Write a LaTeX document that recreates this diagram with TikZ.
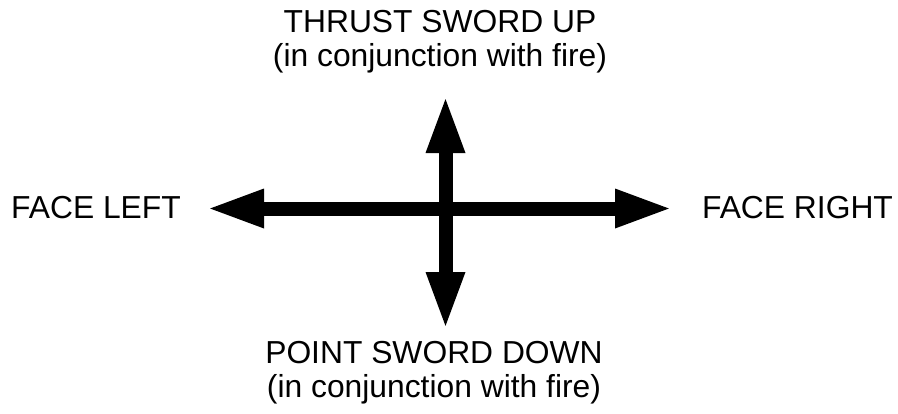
\documentclass[tikz,border=0pt]{standalone}
\usepackage{fontspec}
\setmainfont{Liberation Sans}
\usetikzlibrary{arrows.meta}
\tikzset{
  lbl/.style={inner sep=0pt, font=\fontsize{31.8}{34}\selectfont, align=center},
  dblarrow/.style={line width=14pt, {Triangle[length=58pt,width=35pt]}-{Triangle[length=58pt,width=35pt]}}
}
\begin{document}
\begin{tikzpicture}[x=1pt,y=-1pt]
\useasboundingbox[fill=white] (0,0) rectangle (898,413);
\coordinate (L) at (206,208.5);
\coordinate (R) at (673,208.5);
\coordinate (U) at (445.5,95);
\coordinate (D) at (445.5,330);
\draw[dblarrow] (L) -- (R);
\draw[dblarrow] (U) -- (D);
\node[lbl, anchor=base] (left) at (96,218) {FACE LEFT};
\node[lbl, anchor=base] (right) at (797.5,218) {FACE RIGHT};
\node[lbl, anchor=base] (up) at (440,66) {THRUST SWORD UP\\(in conjunction with fire)};
\node[lbl, anchor=base] (down) at (434,397) {POINT SWORD DOWN\\(in conjunction with fire)};
\end{tikzpicture}
\end{document}
